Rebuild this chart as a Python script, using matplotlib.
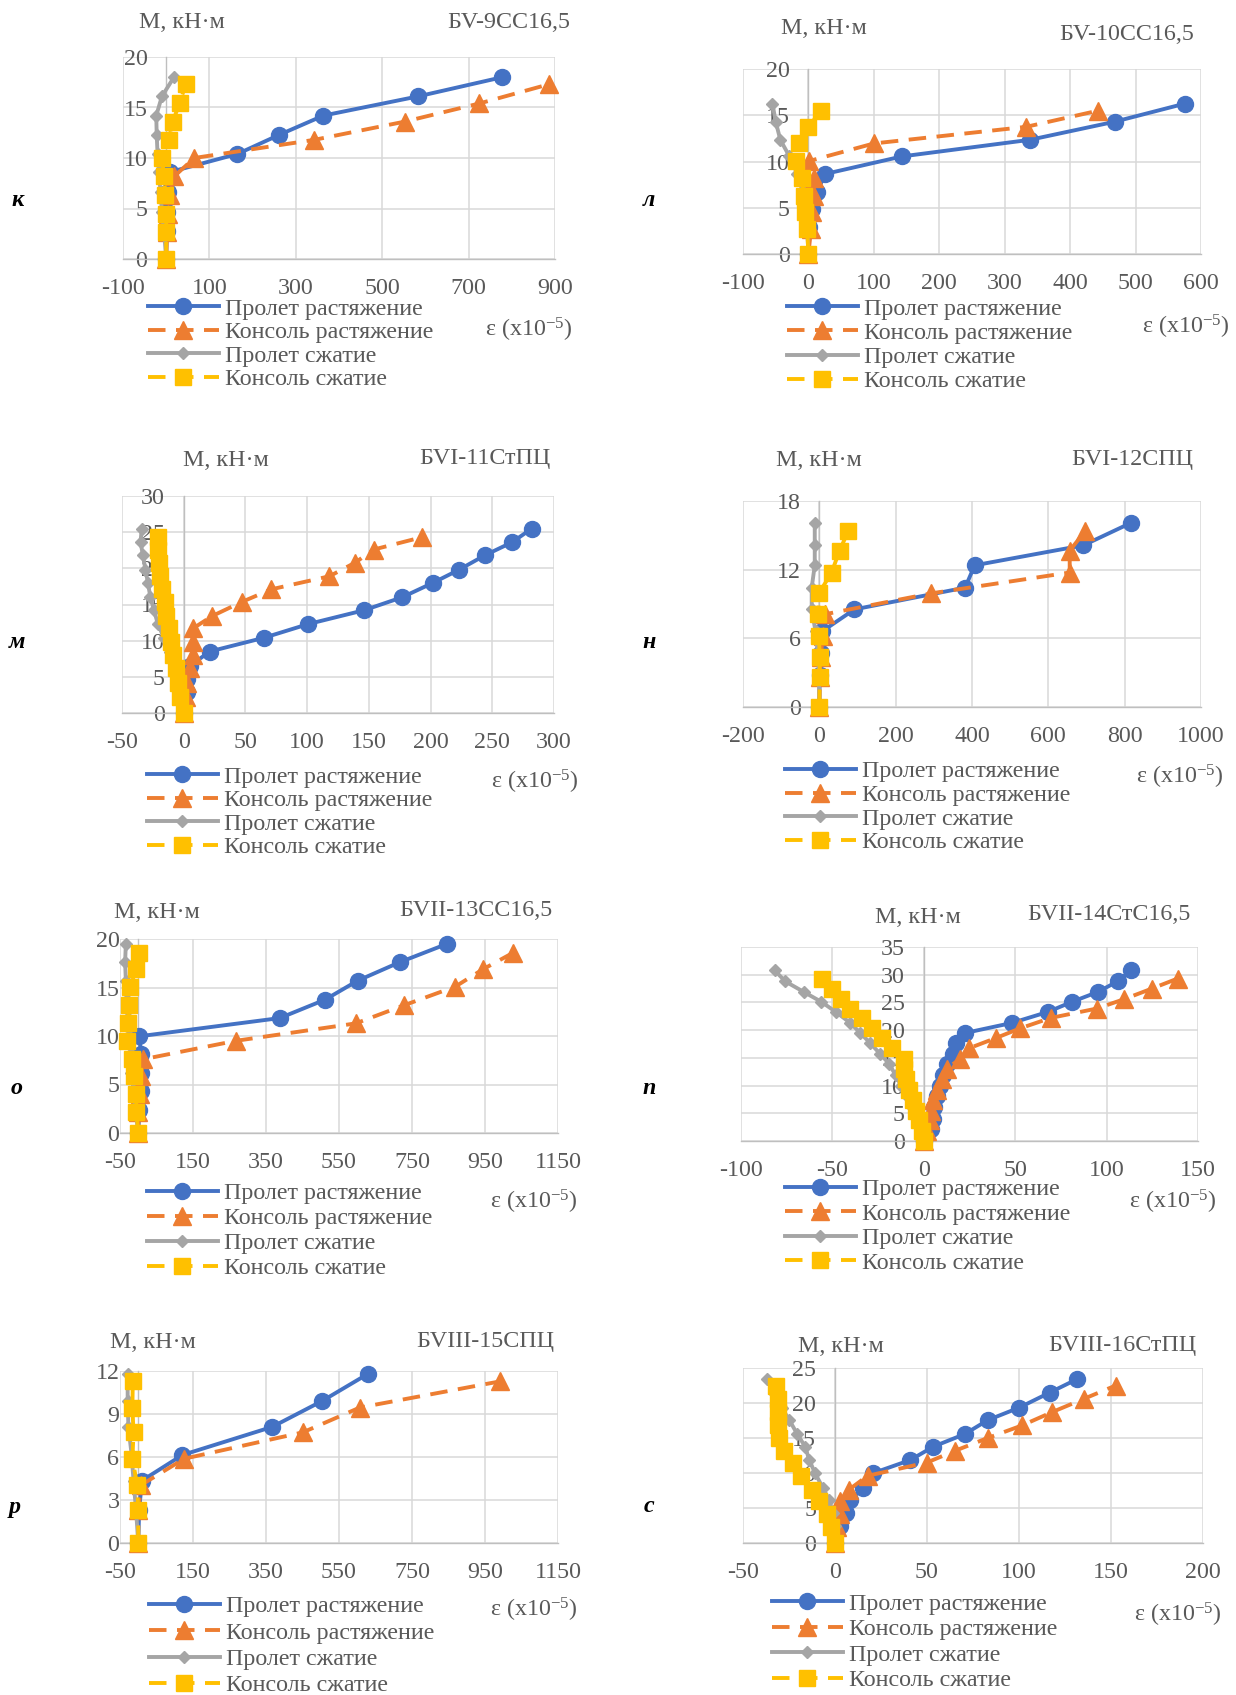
import matplotlib
matplotlib.use('Agg')
import matplotlib.pyplot as plt
from matplotlib.lines import Line2D

plt.rcParams['font.family'] = ['Liberation Serif', 'DejaVu Serif']
plt.rcParams['mathtext.fontset'] = 'custom'
plt.rcParams['mathtext.rm'] = 'Liberation Serif'
plt.rcParams['mathtext.it'] = 'Liberation Serif:italic'
plt.rcParams['axes.unicode_minus'] = False

# ---------------- DATA ----------------
LABELS = ['Пролет растяжение', 'Консоль растяжение', 'Пролет сжатие', 'Консоль сжатие']
LETTERS = ['к', 'л', 'м', 'н', 'о', 'п', 'р', 'с']
SPECS = ['БV-9СС16,5', 'БV-10СС16,5', 'БVI-11СтПЦ', 'БVI-12СПЦ',
         'БVII-13СС16,5', 'БVII-14СтС16,5', 'БVIII-15СПЦ', 'БVIII-16СтПЦ']
Y_TITLE = 'M, кН·м'
X_TITLE = r'ε (x10$^{-5}$)'

# panel к
k_M_span = [0, 2.8, 4.7, 6.6, 8.6, 10.4, 12.3, 14.2, 16.1, 18.0]
k_M_cons = [0, 2.7, 4.5, 6.3, 8.2, 10.0, 11.8, 13.6, 15.4, 17.3]
k_span_tens = [0, 1, 2, 4, 8, 165, 262, 364, 583, 778]
k_cons_tens = [0, 2, 4, 9, 19, 65, 343, 552, 725, 886]
k_span_comp = [0, -5, -10, -13, -17, -20, -22, -23, -10, 18]
k_cons_comp = [0, 0, 0, -2, -5, -10, 6, 15, 31, 45]
k_xticks = [-100, 100, 300, 500, 700, 900]
k_yticks = [0, 5, 10, 15, 20]

# panel л
l_M_span = [0, 2.9, 4.84, 6.75, 8.66, 10.55, 12.35, 14.3, 16.25]
l_M_cons = [0, 2.7, 4.5, 6.3, 8.2, 10.05, 11.95, 13.75, 15.5]
l_span_tens = [0, 1, 5, 13, 26, 143, 339, 468, 575]
l_cons_tens = [0, 4, 5, 8, 8, 1, 100, 333, 443]
l_span_comp = [0, -2, -5, -9, -17, -29, -43, -50, -55]
l_cons_comp = [0, -2, -5, -7, -10, -19, -14, 0, 19]
l_xticks = [-100, 0, 100, 200, 300, 400, 500, 600]
l_yticks = [0, 5, 10, 15, 20]

# panel м
m_M_span = [0, 2.9, 4.7, 6.55, 8.5, 10.4, 12.3, 14.2, 16.0, 18.0, 19.8, 21.8, 23.6, 25.5]
m_M_cons = [0, 2.2, 4.1, 6.2, 8.0, 9.85, 11.7, 13.4, 15.35, 17.1, 18.9, 20.8, 22.6, 24.3]
m_span_tens = [0, 2.3, 3, 5.4, 21, 65, 101, 146, 177, 202, 223, 244, 266, 282]
m_cons_tens = [0, 1.5, 3, 5, 7.6, 7.6, 7.6, 23, 47, 71, 118, 139, 154, 193]
m_span_comp = [0, -2, -4, -7, -11, -16, -21, -24, -27, -29, -31, -33, -35, -34]
m_cons_comp = [0, -3, -4.5, -6.5, -8.5, -10.5, -12, -14, -15.5, -17.5, -19, -20, -20.5, -20.5]
m_xticks = [-50, 0, 50, 100, 150, 200, 250, 300]
m_yticks = [0, 5, 10, 15, 20, 25, 30]

# panel н
n_M_span = [0, 2.77, 4.7, 6.6, 8.53, 10.43, 12.38, 14.13, 16.08]
n_M_cons = [0, 2.6, 4.4, 6.2, 8.1, 9.93, 11.75, 13.65, 15.4]
n_span_tens = [0, 1, 4, 7, 92, 382, 407, 692, 816]
n_cons_tens = [0, 1, 4, 9, 14, 293, 656, 656, 697]
n_span_comp = [0, -1, -4, -10, -20, -20, -12, -12, -12]
n_cons_comp = [0, 1, 1, -1, -3, -1, 32, 53, 76]
n_xticks = [-200, 0, 200, 400, 600, 800, 1000]
n_yticks = [0, 6, 12, 18]

# panel о
o_M_span = [0, 2.4, 4.36, 6.19, 8.18, 9.97, 11.85, 13.75, 15.7, 17.6, 19.5]
o_M_cons = [0, 2.2, 4.0, 5.84, 7.6, 9.5, 11.3, 13.15, 15.1, 16.87, 18.56]
o_span_tens = [0, 3, 8, 8, 8, 3, 388, 512, 601, 716, 846]
o_cons_tens = [0, 0.5, 6, 8, 13, 267, 596, 727, 869, 944, 1026]
o_span_comp = [0, -8, -13, -19, -21, -26, -29, -31, -34, -36, -34]
o_cons_comp = [0, -5, -6, -13, -16, -32, -27, -26, -22, -5, 3]
o_xticks = [-50, 150, 350, 550, 750, 950, 1150]
o_yticks = [0, 5, 10, 15, 20]

# panel п
p_M_span = [0, 2.2, 4.03, 6.13, 8.06, 9.86, 11.85, 13.95, 15.75, 17.7, 19.5, 21.3, 23.3, 25.1, 26.9, 28.8, 30.8]
p_M_cons = [0, 1.8, 3.7, 5.5, 7.34, 9.26, 11.1, 13.05, 14.85, 16.7, 18.6, 20.3, 22.2, 23.9, 25.6, 27.5, 29.3]
p_span_tens = [0, 4, 5, 5.7, 7.2, 8.6, 10.4, 12.6, 15.8, 17.6, 22.8, 48.2, 68, 81, 95.3, 106, 113.4]
p_cons_tens = [0, 2, 3.3, 4, 5, 7.2, 9.8, 12.6, 20, 24.5, 39.6, 52.5, 69.4, 94.7, 109.7, 124.8, 138.8]
p_span_comp = [0, -1.4, -3.6, -6.2, -9, -12.2, -15.4, -19, -24, -29.4, -34.8, -40.2, -48.2, -56, -65.7, -75.8, -81.6]
p_cons_comp = [0, -1, -2.5, -4.5, -6, -8, -10, -11, -11, -17.6, -23, -28.5, -34, -40.2, -45.2, -50.4, -55.7]
p_xticks = [-100, -50, 0, 50, 100, 150]
p_yticks = [0, 5, 10, 15, 20, 25, 30, 35]

# panel р
r_M_span = [0, 2.3, 4.35, 6.14, 8.1, 9.91, 11.81]
r_M_cons = [0, 2.3, 4.05, 5.88, 7.72, 9.45, 11.27]
r_span_tens = [0, 2.5, 10, 121, 367, 504, 630]
r_cons_tens = [0, 0, 8, 126, 451, 607, 990]
r_span_comp = [0, -6, -13, -18, -27, -29, -29]
r_cons_comp = [0, 0, -3, -16, -13, -16, -15]
r_xticks = [-50, 150, 350, 550, 750, 950, 1150]
r_yticks = [0, 3, 6, 9, 12]

# panel с
s_M_span = [0, 2.37, 4.27, 6.17, 7.83, 9.96, 11.86, 13.76, 15.56, 17.55, 19.35, 21.5, 23.4]
s_M_cons = [0, 2.3, 4.2, 5.95, 7.6, 9.6, 11.5, 13.15, 15.0, 16.8, 18.7, 20.6, 22.5]
s_span_tens = [0, 2.6, 6, 8.2, 15, 20.5, 41, 53.4, 70.5, 83, 100.2, 116.8, 131.5]
s_cons_tens = [0, 1, 2.8, 2.6, 7.5, 17.7, 50, 65, 83, 101.7, 118, 135.3, 152.6]
s_span_comp = [0, 0, -1, -3.2, -6.5, -10.8, -14, -16.2, -20.5, -24.8, -29, -33.4, -37]
s_cons_comp = [0, -2.2, -4.3, -8.6, -12.5, -18.3, -22.6, -27.6, -30.6, -31.2, -31.2, -31.2, -32.3]
s_xticks = [-50, 0, 50, 100, 150, 200]
s_yticks = [0, 5, 10, 15, 20, 25]

SERIES = [
    (k_M_span, k_M_cons, k_span_tens, k_cons_tens, k_span_comp, k_cons_comp, k_xticks, k_yticks),
    (l_M_span, l_M_cons, l_span_tens, l_cons_tens, l_span_comp, l_cons_comp, l_xticks, l_yticks),
    (m_M_span, m_M_cons, m_span_tens, m_cons_tens, m_span_comp, m_cons_comp, m_xticks, m_yticks),
    (n_M_span, n_M_cons, n_span_tens, n_cons_tens, n_span_comp, n_cons_comp, n_xticks, n_yticks),
    (o_M_span, o_M_cons, o_span_tens, o_cons_tens, o_span_comp, o_cons_comp, o_xticks, o_yticks),
    (p_M_span, p_M_cons, p_span_tens, p_cons_tens, p_span_comp, p_cons_comp, p_xticks, p_yticks),
    (r_M_span, r_M_cons, r_span_tens, r_cons_tens, r_span_comp, r_cons_comp, r_xticks, r_yticks),
    (s_M_span, s_M_cons, s_span_tens, s_cons_tens, s_span_comp, s_cons_comp, s_xticks, s_yticks),
]

# ---------------- LAYOUT (pixels) ----------------
W, H, DPI = 1236, 1695, 100
LAYOUT = [
    dict(box=(123, 555, 57, 259), mt=(182, 22), sp=(570, 22), lt=(18, 200), leg=(148, 344, 23.4), eps=(529, 330)),
    dict(box=(743, 1201, 69, 254), mt=(824, 28), sp=(1194, 35), lt=(649, 200), leg=(787, 345, 24.1), eps=(1186, 327)),
    dict(box=(122, 554, 496, 713), mt=(226, 460), sp=(551, 458), lt=(17, 643), leg=(147, 812, 23.4), eps=(535, 782)),
    dict(box=(743, 1201, 501, 707), mt=(819, 460), sp=(1193, 459), lt=(649, 643), leg=(785, 807, 23.7), eps=(1180, 777)),
    dict(box=(120, 558, 939, 1133), mt=(157, 913), sp=(553, 910), lt=(17, 1088), leg=(147, 1231, 25.0), eps=(534, 1202)),
    dict(box=(741, 1198, 947, 1141), mt=(918, 917), sp=(1191, 915), lt=(649, 1088), leg=(785, 1226, 24.4), eps=(1173, 1202)),
    dict(box=(120, 558, 1371, 1543), mt=(153, 1343), sp=(554, 1342), lt=(15, 1508), leg=(149, 1646, 26.3), eps=(534, 1610)),
    dict(box=(743, 1203, 1368, 1543), mt=(841, 1346), sp=(1196, 1346), lt=(649, 1507), leg=(772, 1642, 25.6), eps=(1178, 1615)),
]

FS = 17.3
FS_PX = FS * DPI / 72
TXT = '#595959'
GRID = '#D9D9D9'
AXIS = '#BFBFBF'
LW = 2.8
STYLES = [
    dict(color='#4472C4', ls='-', marker='o', ms=11.5, z=3),
    dict(color='#ED7D31', ls=(0, (4.5, 2.7)), marker='^', ms=12.5, z=4),
    dict(color='#A5A5A5', ls='-', marker='D', ms=6.6, z=5),
    dict(color='#FFC000', ls=(0, (4.5, 2.7)), marker='s', ms=11.0, z=6),
]

fig = plt.figure(figsize=(W / DPI, H / DPI), dpi=DPI)


def fx(x):
    return x / W


def fy(y):
    return 1 - y / H


axes = []
for i, (data, lay) in enumerate(zip(SERIES, LAYOUT)):
    M_span, M_cons, sp_t, co_t, sp_c, co_c, xt, yt = data
    L, R, T, B = lay['box']
    ax = fig.add_axes([fx(L), fy(B), (R - L) / W, (B - T) / H])
    axes.append(ax)
    pairs = [(sp_t, M_span), (co_t, M_cons), (sp_c, M_span), (co_c, M_cons)]
    for (xs, ys), st in zip(pairs, STYLES):
        ax.plot(xs, ys, color=st['color'], ls=st['ls'], lw=LW, marker=st['marker'],
                ms=st['ms'], mfc=st['color'], mec=st['color'], zorder=st['z'],
                clip_on=False, solid_joinstyle='round', dash_capstyle='butt')
    ax.set_xlim(xt[0], xt[-1])
    ax.set_ylim(yt[0], yt[-1])
    ax.set_xticks(xt)
    ax.set_yticks(yt)
    ax.set_xticklabels([str(v) for v in xt])
    ax.set_yticklabels([str(v) for v in yt])
    ax.grid(True, color=GRID, lw=1.1)
    ax.set_axisbelow(True)
    for s in ('top', 'right'):
        ax.spines[s].set_visible(False)
    ax.spines['left'].set_position(('data', 0))
    ax.spines['left'].set_color(AXIS)
    ax.spines['left'].set_linewidth(1.0)
    ax.spines['bottom'].set_color(AXIS)
    ax.spines['bottom'].set_linewidth(1.0)
    ax.tick_params(axis='y', length=0, pad=13.5, labelsize=FS, labelcolor=TXT)
    ax.tick_params(axis='x', length=0, pad=14, labelsize=FS, labelcolor=TXT)
    ax.patch.set_alpha(0)

    fig.text(fx(lay['mt'][0]), fy(lay['mt'][1]), Y_TITLE, ha='center', va='center',
             fontsize=FS, color=TXT)
    fig.text(fx(lay['sp'][0]), fy(lay['sp'][1]), SPECS[i], ha='right', va='center',
             fontsize=FS, color=TXT)
    fig.text(fx(lay['lt'][0]), fy(lay['lt'][1]), LETTERS[i], ha='center', va='center',
             fontsize=FS, color='black', fontweight='bold', fontstyle='italic')
    fig.text(fx(lay['eps'][0]), fy(lay['eps'][1]), X_TITLE, ha='center', va='center',
             fontsize=FS, color=TXT)


def add_legend(ax, lay, ls):
    handles = [Line2D([], [], color=st['color'], lw=LW, ls=st['ls'], marker=st['marker'],
                      ms=st['ms'], mfc=st['color'], mec=st['color']) for st in STYLES]
    x0, yc, _ = lay['leg']
    return ax.legend(handles, LABELS, loc='center left', bbox_to_anchor=(fx(x0), fy(yc)),
                     bbox_transform=fig.transFigure, frameon=False, fontsize=FS,
                     handlelength=2.95, handletextpad=0.25, labelspacing=ls,
                     borderpad=0, borderaxespad=0, labelcolor=TXT, numpoints=1)


for ax, lay in zip(axes, LAYOUT):
    add_legend(ax, lay, 0.0)
fig.canvas.draw()
rend = fig.canvas.get_renderer()
for ax, lay in zip(axes, LAYOUT):
    leg = ax.get_legend()
    ys = [t.get_window_extent(rend).y0 for t in leg.get_texts()]
    pitch = (ys[0] - ys[3]) / 3
    ls = (lay['leg'][2] - pitch) / FS_PX
    add_legend(ax, lay, ls)

fig.savefig('out.png', dpi=DPI)
